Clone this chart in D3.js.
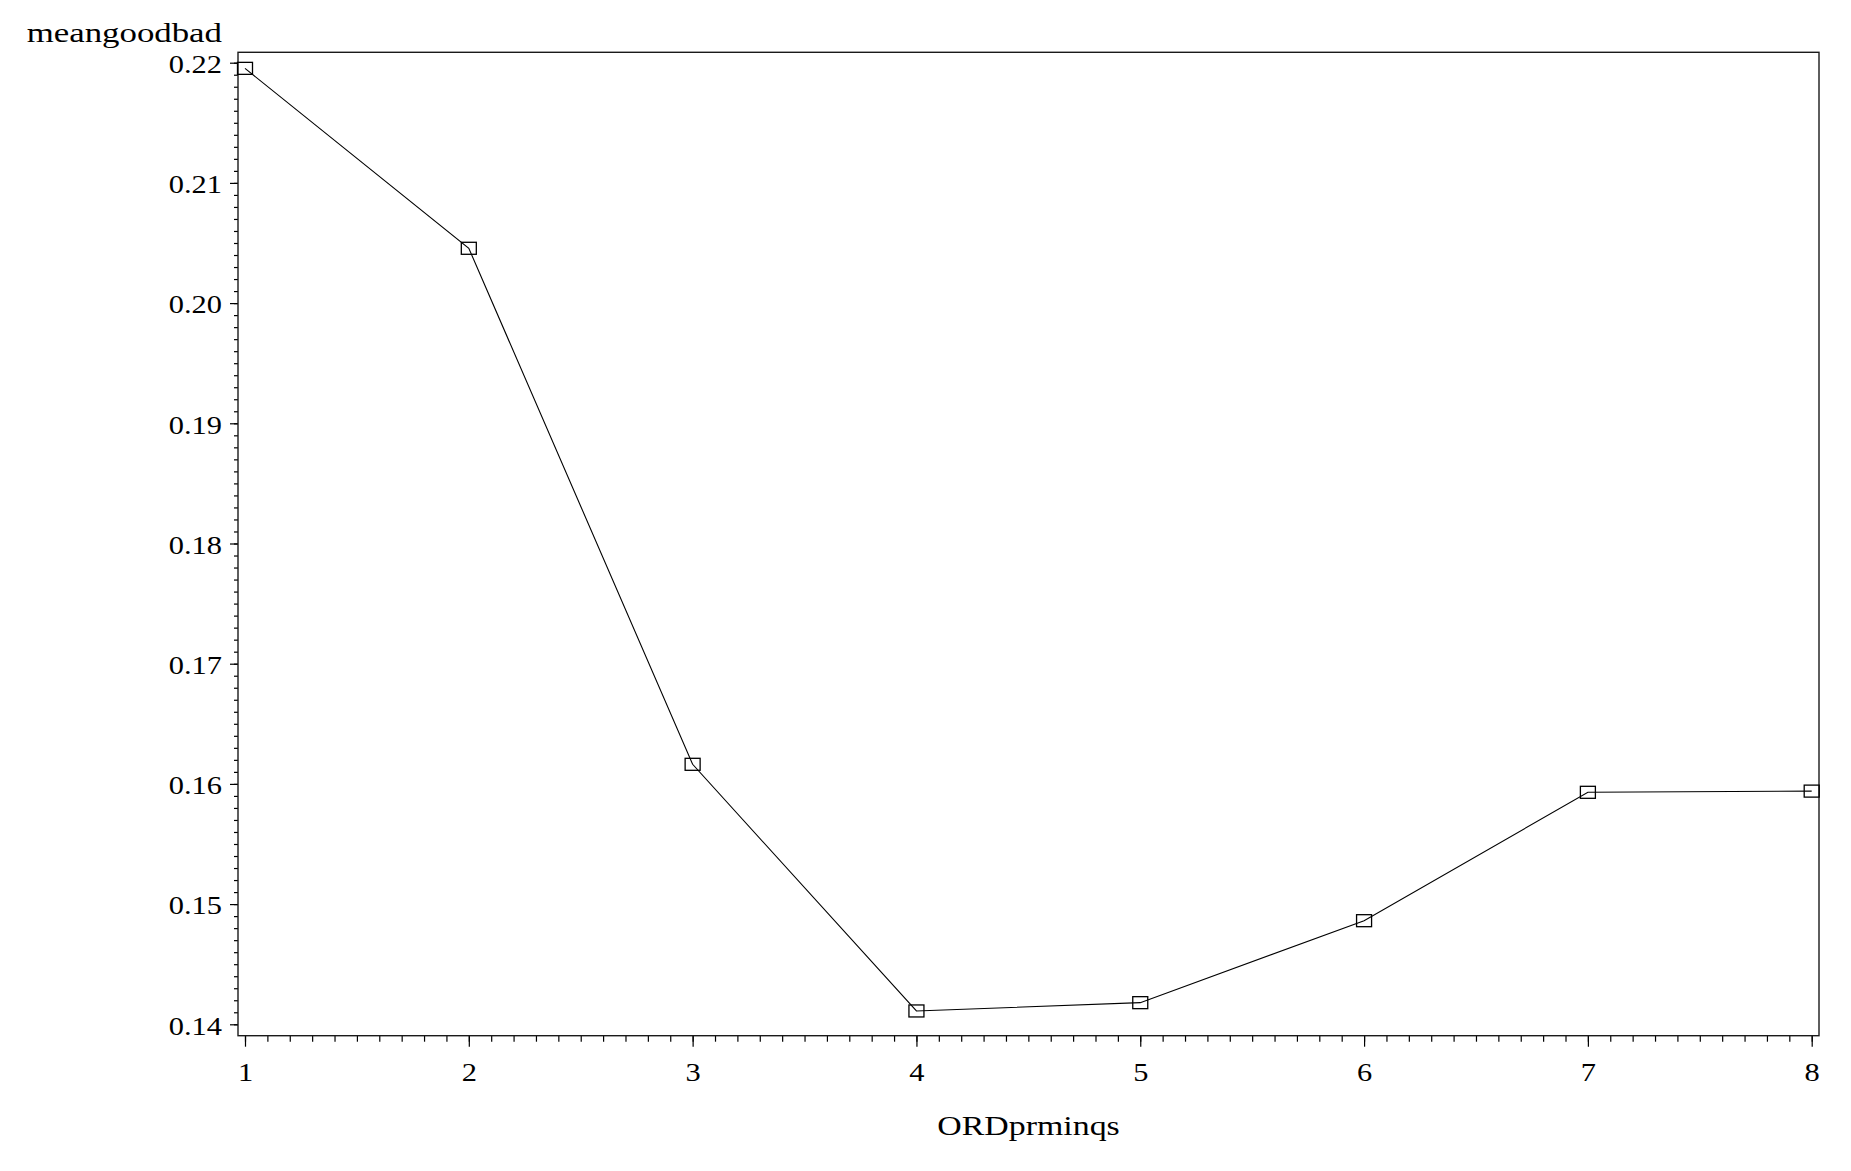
<!DOCTYPE html>
<html>
<head>
<meta charset="utf-8">
<script src="https://cdn.jsdelivr.net/npm/d3@7"></script>
<style>
  html, body { margin: 0; padding: 0; background: #fff; }
  svg { display: block; }
  text { font-family: "Liberation Serif", "Times New Roman", serif; fill: #000; }
</style>
</head>
<body>
<script>
// Mean good/bad rate by ordered prime-inquiry group
const categories = [1, 2, 3, 4, 5, 6, 7, 8];
const meanGoodBad = [0.21953, 0.20456, 0.16163, 0.14111, 0.14180, 0.14862, 0.15930, 0.15940];
const yTickValues = [0.14, 0.15, 0.16, 0.17, 0.18, 0.19, 0.20, 0.21, 0.22];
const xTickValues = [1, 2, 3, 4, 5, 6, 7, 8];
const yLabel = "meangoodbad";
const xLabel = "ORDprminqs";

const W = 1851, H = 1171;
const frame = { left: 238, right: 1819, top: 52.3, bottom: 1035.7 };
const textStretch = 1.17;

const svg = d3.select("body").append("svg")
  .attr("width", W).attr("height", H);

const x = d3.scaleLinear()
  .domain([1, 8])
  .range([frame.left + 7, frame.right - 7.3]);
const y = d3.scaleLinear()
  .domain([0.14, 0.22])
  .range([frame.bottom - 11.4, frame.top + 10.4]);

// minor ticks: tenths on x, thousandths on y
const xMinor = d3.range(10, 81).map(d => d / 10);
const yMinor = d3.range(140, 221).map(d => d / 1000);

// y axis
const yMinorAxis = svg.append("g")
  .attr("transform", `translate(${frame.left},0)`)
  .call(d3.axisLeft(y).tickValues(yMinor).tickSize(4).tickFormat(""));
yMinorAxis.select(".domain").remove();

const yAxis = svg.append("g")
  .attr("transform", `translate(${frame.left},0)`)
  .call(d3.axisLeft(y).tickValues(yTickValues).tickSize(8).tickFormat(d3.format(".2f")));
yAxis.select(".domain").remove();
yAxis.selectAll("text")
  .attr("x", null)
  .attr("dy", "0.38em")
  .attr("font-size", 26)
  .attr("transform", `translate(-16,0) scale(${textStretch},1)`);

// x axis
const xMinorAxis = svg.append("g")
  .attr("transform", `translate(0,${frame.bottom})`)
  .call(d3.axisBottom(x).tickValues(xMinor).tickSize(6).tickFormat(""));
xMinorAxis.select(".domain").remove();

const xAxis = svg.append("g")
  .attr("transform", `translate(0,${frame.bottom})`)
  .call(d3.axisBottom(x).tickValues(xTickValues).tickSize(11).tickFormat(d3.format("d")));
xAxis.select(".domain").remove();
xAxis.selectAll("text")
  .attr("y", null)
  .attr("dy", null)
  .attr("font-size", 26)
  .attr("transform", `translate(0,45) scale(${textStretch},1)`);

svg.selectAll(".tick line").attr("stroke", "#000").attr("stroke-width", 1.2);

// plot frame
svg.append("rect")
  .attr("x", frame.left).attr("y", frame.top)
  .attr("width", frame.right - frame.left)
  .attr("height", frame.bottom - frame.top)
  .attr("fill", "none")
  .attr("stroke", "#1a1a1a")
  .attr("stroke-width", 1.4);

// series line
const pts = categories.map((c, i) => [c, meanGoodBad[i]]);
svg.append("path")
  .datum(pts)
  .attr("fill", "none")
  .attr("stroke", "#000")
  .attr("stroke-width", 1.1)
  .attr("d", d3.line().x(d => x(d[0])).y(d => y(d[1])));

// square markers
const mw = 15, mh = 12;
svg.selectAll("rect.marker")
  .data(pts)
  .enter().append("rect")
  .attr("class", "marker")
  .attr("x", d => x(d[0]) - mw / 2)
  .attr("y", d => y(d[1]) - mh / 2)
  .attr("width", mw).attr("height", mh)
  .attr("fill", "none")
  .attr("stroke", "#000")
  .attr("stroke-width", 1.3);

// axis titles
svg.append("text")
  .attr("text-anchor", "end")
  .attr("font-size", 27)
  .attr("transform", `translate(222,42) scale(1.29,1)`)
  .text(yLabel);

svg.append("text")
  .attr("text-anchor", "middle")
  .attr("font-size", 28)
  .attr("transform", `translate(${(frame.left + frame.right) / 2},1135) scale(1.21,1)`)
  .text(xLabel);
</script>
</body>
</html>
